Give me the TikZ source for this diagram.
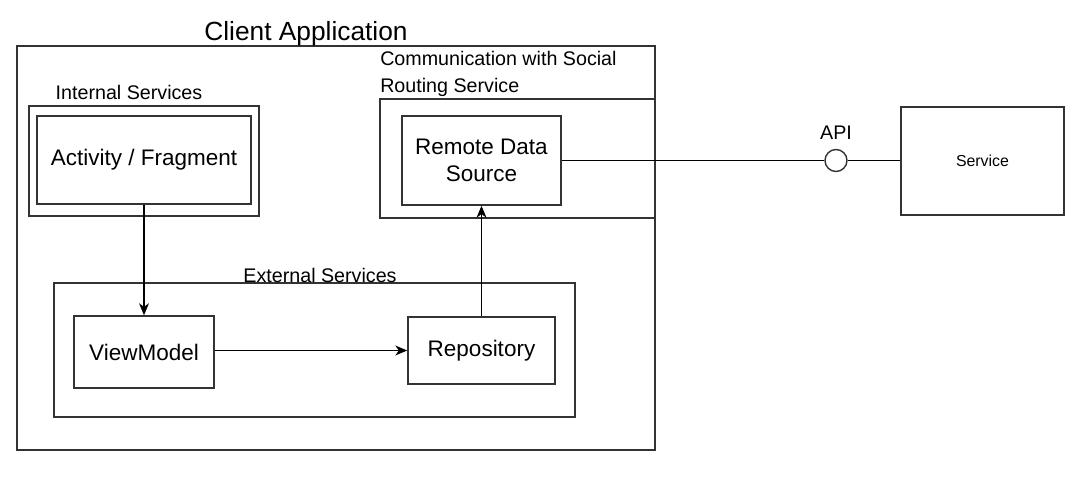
\documentclass[tikz,border=0pt]{standalone}
\usepackage{fontspec}
\setmainfont{Liberation Sans}
\usetikzlibrary{arrows.meta}
\tikzset{
  box/.style={draw=black!80, line width=1pt, inner sep=0pt, align=center, font=\fontsize{16}{19.2}\selectfont},
  boxsize/.style 2 args={minimum width=#1*0.025cm, minimum height=#2*0.025cm},
  grp/.style={draw=black!80, line width=1pt},
  lbl/.style={font=\fontsize{14}{19.2}\selectfont, inner sep=0pt},
  flow/.style={-{Stealth[length=8.5pt,width=7pt,inset=2.5pt]}, line width=1pt},
}
\begin{document}
\begin{tikzpicture}[x=0.025cm, y=-0.025cm]
    \useasboundingbox (0,0) rectangle (1074,492);

    % 客户端应用
    \draw[grp] (17,46) rectangle (655,450);
    \node[font=\fontsize{18.7}{22}\selectfont, inner sep=0pt] (title) at (306,34) {Client Application};

    % 内部服务
    \draw[grp] (29,106) rectangle (259,216);
    \node[lbl] (intlbl) at (129,92) {Internal Services};
    \node[box, boxsize={214}{88}] (act) at (144,160) {Activity / Fragment};

    % 与路由服务通信
    \draw[grp] (380,99) rectangle (655,218);
    \node[lbl, anchor=west, align=left] (comlbl) at (380,73.5) {Communication with Social\\Routing Service};
    \node[box, boxsize={159}{89}] (rds) at (481.5,160.5) {Remote Data\\Source};

    % 外部服务
    \draw[grp] (54,283) rectangle (575,417);
    \node[lbl] (extlbl) at (320,275) {External Services};
    \node[box, boxsize={140}{72}] (vm) at (144,352) {ViewModel};
    \node[box, boxsize={147}{67}] (repo) at (481.5,350.5) {Repository};

    % 数据流
    \draw[flow] (act) -- (vm);
    \draw[flow] (vm.east |- repo.west) -- (repo.west);
    \draw[flow] (repo) -- (rds);

    % 远程服务与接口
    \node[box, boxsize={163}{108}, font=\fontsize{11.3}{13}\selectfont] (svc) at (982.5,161) {Service};
    \node[circle, draw=black!80, line width=1pt, minimum size=22*0.025cm, inner sep=0pt] (api) at (836,160.5) {};
    \node[lbl] (apilbl) at (836,133) {API};
    \draw[line width=1pt] (rds.east) -- (api.west);
    \draw[line width=1pt] (api.east) -- (svc.west |- api.east);
\end{tikzpicture}
\end{document}
